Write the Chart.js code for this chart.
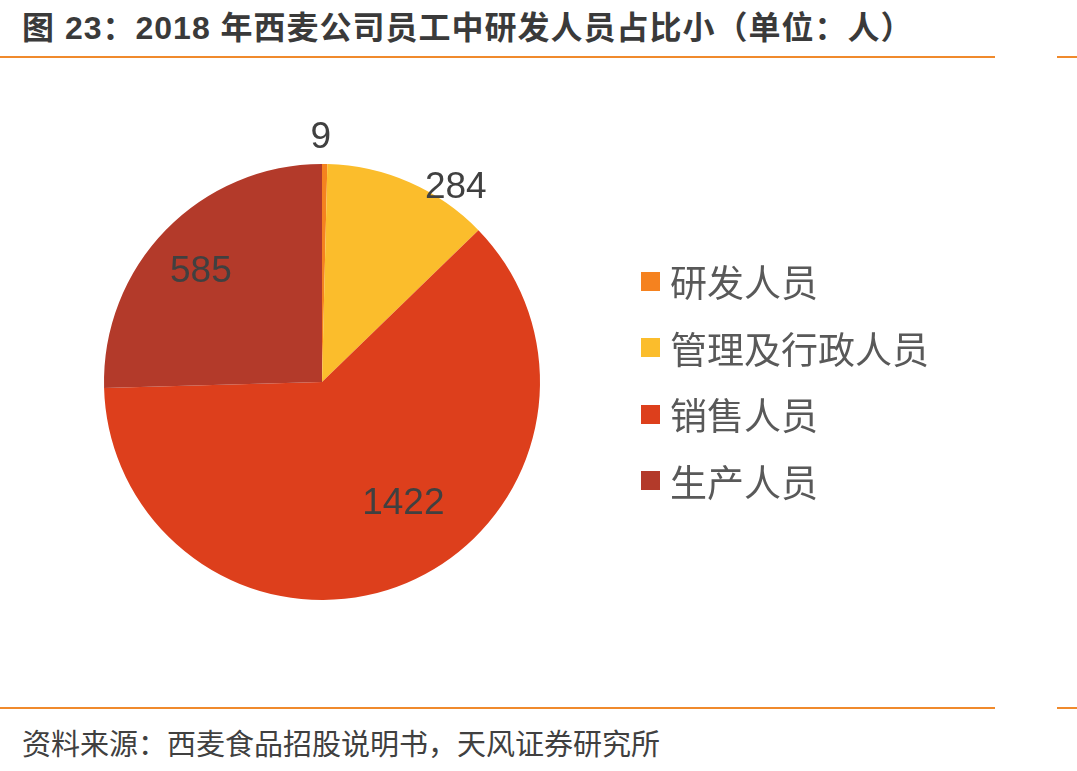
<!DOCTYPE html>
<html>
<head>
<meta charset="utf-8">
<script src="https://cdn.jsdelivr.net/npm/chart.js@4"></script>
<style>
  html, body { margin: 0; padding: 0; background: #fff; }
  body { width: 1077px; height: 771px; position: relative; overflow: hidden;
         font-family: "Liberation Sans", "Noto Sans CJK SC", sans-serif; }
  .title { position: absolute; left: 22px; top: 2px; font-size: 32px; font-weight: bold; color: #3a3a3a;
           letter-spacing: 1px; white-space: nowrap; }
  .rule { position: absolute; height: 2px; background: #f08a2c; }
  .source { position: absolute; left: 22px; top: 721px; font-size: 29px; color: #404040; white-space: nowrap; }
  #chart-wrap { position: absolute; left: 0; top: 60px; width: 644px; height: 644px; }
  #legend { position: absolute; left: 641px; top: 248px; }
  .leg-row { height: 66.5px; display: flex; align-items: center; }
  .leg-box { width: 19px; height: 19px; margin-right: 10px; }
  .leg-text { font-size: 37px; color: #595959; font-family: "Noto Sans CJK SC", sans-serif; }
</style>
</head>
<body>
<div class="title">图 23：2018 年西麦公司员工中研发人员占比小（单位：人）</div>
<div class="rule" style="left:0;width:995px;top:56px;"></div>
<div class="rule" style="left:1057px;width:20px;top:56px;"></div>

<div id="chart-wrap"><canvas id="pie" width="644" height="644"></canvas></div>
<div id="legend"></div>

<div class="rule" style="left:0;width:995px;top:707px;"></div>
<div class="rule" style="left:1057px;width:20px;top:707px;"></div>
<div class="source">资料来源：西麦食品招股说明书，天风证券研究所</div>

<script>
// staff breakdown, 2018
const categories = ["研发人员", "管理及行政人员", "销售人员", "生产人员"];
const headcount = [9, 284, 1422, 585];
const sliceColors = ["#f5821f", "#fbbd2c", "#dd3f1c", "#b33a2a"];

// label placement per slice: radius factor + angle nudge (deg, clockwise)
const labelPlacement = [
  { r: 1.12, shift: -1 },
  { r: 1.08, shift: 11 },
  { r: 0.67, shift: -11 },
  { r: 0.75, shift: -2 }
];

const sliceLabels = {
  id: "sliceLabels",
  afterDatasetsDraw(chart) {
    const ctx = chart.ctx;
    const meta = chart.getDatasetMeta(0);
    ctx.save();
    ctx.font = "37px 'Liberation Sans', Arial, sans-serif";
    ctx.fillStyle = "#404040";
    ctx.textAlign = "center";
    ctx.textBaseline = "middle";
    meta.data.forEach((arc, i) => {
      const p = arc.getProps(["x", "y", "startAngle", "endAngle", "outerRadius"], true);
      const mid = (p.startAngle + p.endAngle) / 2 + labelPlacement[i].shift * Math.PI / 180;
      const r = p.outerRadius * labelPlacement[i].r;
      ctx.fillText(String(headcount[i]), p.x + Math.cos(mid) * r, p.y + Math.sin(mid) * r);
    });
    ctx.restore();
  }
};

new Chart(document.getElementById("pie"), {
  type: "pie",
  data: {
    labels: categories,
    datasets: [{ data: headcount, backgroundColor: sliceColors, borderWidth: 0 }]
  },
  options: {
    responsive: false,
    animation: false,
    layout: { padding: 104 },
    plugins: { legend: { display: false }, tooltip: { enabled: false } }
  },
  plugins: [sliceLabels]
});

document.getElementById("legend").innerHTML = categories.map((c, i) => `
  <div class="leg-row"><div class="leg-box" style="background:${sliceColors[i]}"></div><span class="leg-text">${c}</span></div>
`).join("");
</script>
</body>
</html>
